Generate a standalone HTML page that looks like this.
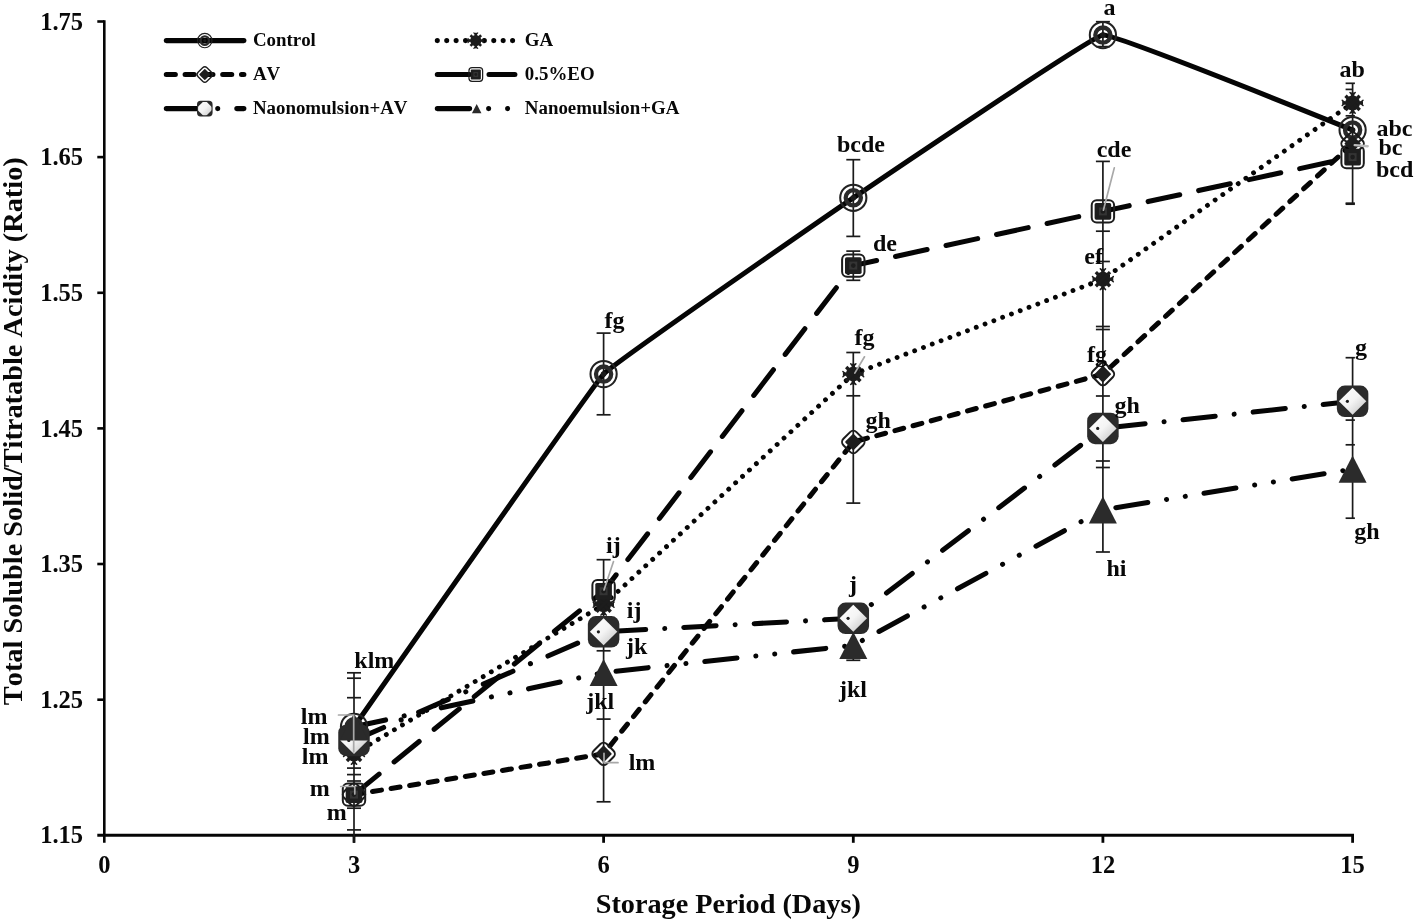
<!DOCTYPE html>
<html><head><meta charset="utf-8"><title>chart</title>
<style>
html,body{margin:0;padding:0;background:#fff;}
body{width:1416px;height:923px;overflow:hidden;}
svg{display:block;}
svg{filter:grayscale(1);}
text{font-family:"Liberation Serif",serif;font-weight:bold;fill:#080808;font-kerning:none;}
</style></head><body>
<svg width="1416" height="923" viewBox="0 0 1416 923">
<defs>
<linearGradient id="gd" x1="0" y1="0" x2="1" y2="1"><stop offset="0" stop-color="#ffffff"/><stop offset="0.5" stop-color="#f4f4f4"/><stop offset="1" stop-color="#bdbdbd"/></linearGradient>
<clipPath id="lclip"><rect x="-6.7" y="-6.7" width="13.4" height="13.4" rx="2.6"/></clipPath>
</defs>
<rect width="1416" height="923" fill="#fff"/>

<g stroke="#050505" fill="none">
<line x1="104.3" y1="20.3" x2="104.3" y2="842.8" stroke-width="2.6"/>
<line x1="97.3" y1="835.3" x2="1354.0" y2="835.3" stroke-width="3"/>
<line x1="97.3" y1="21.5" x2="104.3" y2="21.5" stroke-width="2.6"/>
<line x1="97.3" y1="157.1" x2="104.3" y2="157.1" stroke-width="2.6"/>
<line x1="97.3" y1="292.8" x2="104.3" y2="292.8" stroke-width="2.6"/>
<line x1="97.3" y1="428.4" x2="104.3" y2="428.4" stroke-width="2.6"/>
<line x1="97.3" y1="564.0" x2="104.3" y2="564.0" stroke-width="2.6"/>
<line x1="97.3" y1="699.7" x2="104.3" y2="699.7" stroke-width="2.6"/>
<line x1="354.0" y1="835.3" x2="354.0" y2="842.8" stroke-width="2.8"/>
<line x1="603.6" y1="835.3" x2="603.6" y2="842.8" stroke-width="2.8"/>
<line x1="853.3" y1="835.3" x2="853.3" y2="842.8" stroke-width="2.8"/>
<line x1="1102.9" y1="835.3" x2="1102.9" y2="842.8" stroke-width="2.8"/>
<line x1="1352.6" y1="835.3" x2="1352.6" y2="842.8" stroke-width="2.8"/>
</g>
<text x="83.0" y="29.6" font-size="24.5" text-anchor="end">1.75</text>
<text x="83.0" y="165.2" font-size="24.5" text-anchor="end">1.65</text>
<text x="83.0" y="300.9" font-size="24.5" text-anchor="end">1.55</text>
<text x="83.0" y="436.5" font-size="24.5" text-anchor="end">1.45</text>
<text x="83.0" y="572.1" font-size="24.5" text-anchor="end">1.35</text>
<text x="83.0" y="707.8" font-size="24.5" text-anchor="end">1.25</text>
<text x="83.0" y="843.4" font-size="24.5" text-anchor="end">1.15</text>
<text x="104.3" y="873" font-size="24.5" text-anchor="middle">0</text>
<text x="354.0" y="873" font-size="24.5" text-anchor="middle">3</text>
<text x="603.6" y="873" font-size="24.5" text-anchor="middle">6</text>
<text x="853.3" y="873" font-size="24.5" text-anchor="middle">9</text>
<text x="1102.9" y="873" font-size="24.5" text-anchor="middle">12</text>
<text x="1352.6" y="873" font-size="24.5" text-anchor="middle">15</text>
<text x="728.3" y="913.2" font-size="28.25" text-anchor="middle">Storage Period (Days)</text>
<text transform="translate(22.3,431.2) rotate(-90)" font-size="28.35" text-anchor="middle">Total Soluble Solid/Titratable Acidity (Ratio)</text>
<g stroke="#1a1a1a" stroke-width="1.7" fill="none" id="eb">
<line x1="354.0" y1="672.8" x2="354.0" y2="843"/>
<line x1="347.0" y1="672.8" x2="361.0" y2="672.8"/>
<line x1="347.0" y1="678.2" x2="361.0" y2="678.2"/>
<line x1="347.0" y1="697.7" x2="361.0" y2="697.7"/>
<line x1="347.0" y1="768.1" x2="361.0" y2="768.1"/>
<line x1="347.0" y1="774.6" x2="361.0" y2="774.6"/>
<line x1="347.0" y1="781" x2="361.0" y2="781"/>
<line x1="347.0" y1="808.2" x2="361.0" y2="808.2"/>
<line x1="347.0" y1="829.9" x2="361.0" y2="829.9"/>
<line x1="603.6" y1="333.1" x2="603.6" y2="414.8"/>
<line x1="603.6" y1="559.7" x2="603.6" y2="801.8"/>
<line x1="596.6" y1="333.1" x2="610.6" y2="333.1"/>
<line x1="596.6" y1="414.8" x2="610.6" y2="414.8"/>
<line x1="596.6" y1="559.7" x2="610.6" y2="559.7"/>
<line x1="596.6" y1="650.8" x2="610.6" y2="650.8"/>
<line x1="596.6" y1="719.1" x2="610.6" y2="719.1"/>
<line x1="596.6" y1="801.8" x2="610.6" y2="801.8"/>
<line x1="853.3" y1="159.7" x2="853.3" y2="236.4"/>
<line x1="853.3" y1="251.1" x2="853.3" y2="280.3"/>
<line x1="853.3" y1="352.5" x2="853.3" y2="503.1"/>
<line x1="853.3" y1="640" x2="853.3" y2="660.3"/>
<line x1="846.3" y1="159.7" x2="860.3" y2="159.7"/>
<line x1="846.3" y1="236.4" x2="860.3" y2="236.4"/>
<line x1="846.3" y1="251.1" x2="860.3" y2="251.1"/>
<line x1="846.3" y1="280.3" x2="860.3" y2="280.3"/>
<line x1="846.3" y1="352.5" x2="860.3" y2="352.5"/>
<line x1="846.3" y1="395.8" x2="860.3" y2="395.8"/>
<line x1="846.3" y1="503.1" x2="860.3" y2="503.1"/>
<line x1="846.3" y1="660.3" x2="860.3" y2="660.3"/>
<line x1="1102.9" y1="21.7" x2="1102.9" y2="46.6"/>
<line x1="1102.9" y1="161.4" x2="1102.9" y2="552"/>
<line x1="1095.9" y1="21.7" x2="1109.9" y2="21.7"/>
<line x1="1095.9" y1="46.6" x2="1109.9" y2="46.6"/>
<line x1="1095.9" y1="161.4" x2="1109.9" y2="161.4"/>
<line x1="1095.9" y1="231.2" x2="1109.9" y2="231.2"/>
<line x1="1095.9" y1="261.5" x2="1109.9" y2="261.5"/>
<line x1="1095.9" y1="326.5" x2="1109.9" y2="326.5"/>
<line x1="1095.9" y1="329.5" x2="1109.9" y2="329.5"/>
<line x1="1095.9" y1="396" x2="1109.9" y2="396"/>
<line x1="1095.9" y1="461" x2="1109.9" y2="461"/>
<line x1="1095.9" y1="467.5" x2="1109.9" y2="467.5"/>
<line x1="1095.9" y1="552" x2="1109.9" y2="552"/>
<line x1="1352.6" y1="83.3" x2="1352.6" y2="203.6"/>
<line x1="1352.6" y1="357.7" x2="1352.6" y2="518.2"/>
<line x1="1345.6" y1="83.3" x2="1354.9" y2="83.3"/>
<line x1="1345.6" y1="115.8" x2="1354.9" y2="115.8"/>
<line x1="1345.6" y1="203.2" x2="1354.9" y2="203.2"/>
<line x1="1345.6" y1="204.2" x2="1354.9" y2="204.2"/>
<line x1="1345.6" y1="357.7" x2="1354.9" y2="357.7"/>
<line x1="1345.6" y1="420.1" x2="1354.9" y2="420.1"/>
<line x1="1345.6" y1="444.8" x2="1354.9" y2="444.8"/>
<line x1="1345.6" y1="518.2" x2="1354.9" y2="518.2"/>
<line x1="1345.6" y1="89.4" x2="1352.6" y2="89.4"/>
</g>
<g fill="none" stroke="#050505" stroke-width="5.05" stroke-linecap="round" stroke-linejoin="round" id="lines">
<path d="M354.0,726.8 C359.8,718.6 592.0,386.5 603.6,374.1 C615.3,361.8 841.6,205.7 853.3,197.8 C864.9,189.9 1091.3,36.6 1102.9,35.1 C1114.6,33.5 1346.8,127.8 1352.6,130.0"/>
<polyline points="354.0,753.9 603.6,604.7 853.3,374.1 1102.9,279.2 1352.6,102.9" stroke-dasharray="0.01 9.40" stroke-width="4.85"/>
<polyline points="354.0,794.6 603.6,753.9 853.3,442.0 1102.9,374.1 1352.6,143.6" stroke-dasharray="9.05 9.75"/>
<polyline points="354.0,794.6 603.6,591.2 853.3,265.6 1102.9,211.4 1352.6,157.1" stroke-dasharray="32.35 19.35"/>
<polyline points="354.0,740.4 603.6,631.8 853.3,618.3 1102.9,428.4 1352.6,401.3" stroke-dasharray="32.35 19.07 0.01 19.07"/>
<polyline points="354.0,726.8 603.6,672.5 853.3,645.4 1102.9,509.8 1352.6,469.1" stroke-dasharray="32.35 18.98 0.01 18.98 0.01 18.98"/>
</g>
<g id="markers">
<g transform="translate(354.0,726.8)" fill="none"><circle r="13.1" stroke="#222" stroke-width="2.05"/><circle r="7.6" stroke="#2a2a2a" stroke-width="4.3"/><circle r="2.8" fill="#1a1a1a"/></g>
<g transform="translate(603.6,374.1)" fill="none"><circle r="13.1" stroke="#222" stroke-width="2.05"/><circle r="7.6" stroke="#2a2a2a" stroke-width="4.3"/><circle r="2.8" fill="#1a1a1a"/></g>
<g transform="translate(853.3,197.8)" fill="none"><circle r="13.1" stroke="#222" stroke-width="2.05"/><circle r="7.6" stroke="#2a2a2a" stroke-width="4.3"/><circle r="2.8" fill="#1a1a1a"/></g>
<g transform="translate(1102.9,35.1)" fill="none"><circle r="13.1" stroke="#222" stroke-width="2.05"/><circle r="7.6" stroke="#2a2a2a" stroke-width="4.3"/><circle r="2.8" fill="#1a1a1a"/></g>
<g transform="translate(1352.6,130.0)" fill="none"><circle r="13.1" stroke="#222" stroke-width="2.05"/><circle r="7.6" stroke="#2a2a2a" stroke-width="4.3"/><circle r="2.8" fill="#1a1a1a"/></g>
<g transform="translate(354.0,753.9)" stroke="#1c1c1c" stroke-width="3.4" stroke-linecap="butt"><circle r="7.4" fill="#1c1c1c" stroke="none"/><line x1="-10.4" y1="0" x2="10.4" y2="0"/><line x1="0" y1="-10.4" x2="0" y2="10.4"/><line x1="-7.1" y1="-7.1" x2="7.1" y2="7.1"/><line x1="-7.1" y1="7.1" x2="7.1" y2="-7.1"/><g stroke-width="1.5" stroke-linecap="round"><path d="M8.6,-1 L10.4,-2.6 M8.6,1 L10.4,2.6 M-8.6,-1 L-10.4,-2.6 M-8.6,1 L-10.4,2.6 M-1,8.6 L-2.6,10.4 M1,8.6 L2.6,10.4 M-1,-8.6 L-2.6,-10.4 M1,-8.6 L2.6,-10.4"/></g></g>
<g transform="translate(603.6,604.7)" stroke="#1c1c1c" stroke-width="3.4" stroke-linecap="butt"><circle r="7.4" fill="#1c1c1c" stroke="none"/><line x1="-10.4" y1="0" x2="10.4" y2="0"/><line x1="0" y1="-10.4" x2="0" y2="10.4"/><line x1="-7.1" y1="-7.1" x2="7.1" y2="7.1"/><line x1="-7.1" y1="7.1" x2="7.1" y2="-7.1"/><g stroke-width="1.5" stroke-linecap="round"><path d="M8.6,-1 L10.4,-2.6 M8.6,1 L10.4,2.6 M-8.6,-1 L-10.4,-2.6 M-8.6,1 L-10.4,2.6 M-1,8.6 L-2.6,10.4 M1,8.6 L2.6,10.4 M-1,-8.6 L-2.6,-10.4 M1,-8.6 L2.6,-10.4"/></g></g>
<g transform="translate(853.3,374.1)" stroke="#1c1c1c" stroke-width="3.4" stroke-linecap="butt"><circle r="7.4" fill="#1c1c1c" stroke="none"/><line x1="-10.4" y1="0" x2="10.4" y2="0"/><line x1="0" y1="-10.4" x2="0" y2="10.4"/><line x1="-7.1" y1="-7.1" x2="7.1" y2="7.1"/><line x1="-7.1" y1="7.1" x2="7.1" y2="-7.1"/><g stroke-width="1.5" stroke-linecap="round"><path d="M8.6,-1 L10.4,-2.6 M8.6,1 L10.4,2.6 M-8.6,-1 L-10.4,-2.6 M-8.6,1 L-10.4,2.6 M-1,8.6 L-2.6,10.4 M1,8.6 L2.6,10.4 M-1,-8.6 L-2.6,-10.4 M1,-8.6 L2.6,-10.4"/></g></g>
<g transform="translate(1102.9,279.2)" stroke="#1c1c1c" stroke-width="3.4" stroke-linecap="butt"><circle r="7.4" fill="#1c1c1c" stroke="none"/><line x1="-10.4" y1="0" x2="10.4" y2="0"/><line x1="0" y1="-10.4" x2="0" y2="10.4"/><line x1="-7.1" y1="-7.1" x2="7.1" y2="7.1"/><line x1="-7.1" y1="7.1" x2="7.1" y2="-7.1"/><g stroke-width="1.5" stroke-linecap="round"><path d="M8.6,-1 L10.4,-2.6 M8.6,1 L10.4,2.6 M-8.6,-1 L-10.4,-2.6 M-8.6,1 L-10.4,2.6 M-1,8.6 L-2.6,10.4 M1,8.6 L2.6,10.4 M-1,-8.6 L-2.6,-10.4 M1,-8.6 L2.6,-10.4"/></g></g>
<g transform="translate(1352.6,102.9)" stroke="#1c1c1c" stroke-width="3.4" stroke-linecap="butt"><circle r="7.4" fill="#1c1c1c" stroke="none"/><line x1="-10.4" y1="0" x2="10.4" y2="0"/><line x1="0" y1="-10.4" x2="0" y2="10.4"/><line x1="-7.1" y1="-7.1" x2="7.1" y2="7.1"/><line x1="-7.1" y1="7.1" x2="7.1" y2="-7.1"/><g stroke-width="1.5" stroke-linecap="round"><path d="M8.6,-1 L10.4,-2.6 M8.6,1 L10.4,2.6 M-8.6,-1 L-10.4,-2.6 M-8.6,1 L-10.4,2.6 M-1,8.6 L-2.6,10.4 M1,8.6 L2.6,10.4 M-1,-8.6 L-2.6,-10.4 M1,-8.6 L2.6,-10.4"/></g></g>
<g transform="translate(354.0,794.6)"><rect x="-9.24" y="-9.24" width="18.48" height="18.48" rx="4.5" transform="rotate(45)" fill="none" stroke="#1c1c1c" stroke-width="2"/><rect x="-6" y="-6" width="12" height="12" rx="1" transform="rotate(45)" fill="#1e1e1e"/></g>
<g transform="translate(603.6,753.9)"><rect x="-9.24" y="-9.24" width="18.48" height="18.48" rx="4.5" transform="rotate(45)" fill="none" stroke="#1c1c1c" stroke-width="2"/><rect x="-6" y="-6" width="12" height="12" rx="1" transform="rotate(45)" fill="#1e1e1e"/></g>
<g transform="translate(853.3,442.0)"><rect x="-9.24" y="-9.24" width="18.48" height="18.48" rx="4.5" transform="rotate(45)" fill="none" stroke="#1c1c1c" stroke-width="2"/><rect x="-6" y="-6" width="12" height="12" rx="1" transform="rotate(45)" fill="#1e1e1e"/></g>
<g transform="translate(1102.9,374.1)"><rect x="-9.24" y="-9.24" width="18.48" height="18.48" rx="4.5" transform="rotate(45)" fill="none" stroke="#1c1c1c" stroke-width="2"/><rect x="-6" y="-6" width="12" height="12" rx="1" transform="rotate(45)" fill="#1e1e1e"/></g>
<g transform="translate(1352.6,143.6)"><rect x="-9.24" y="-9.24" width="18.48" height="18.48" rx="4.5" transform="rotate(45)" fill="none" stroke="#1c1c1c" stroke-width="2"/><rect x="-6" y="-6" width="12" height="12" rx="1" transform="rotate(45)" fill="#1e1e1e"/></g>
<g transform="translate(354.0,794.6)"><rect x="-11.2" y="-11.2" width="22.4" height="22.4" rx="5" fill="none" stroke="#1c1c1c" stroke-width="2"/><rect x="-8.3" y="-8.3" width="16.6" height="16.6" rx="1.6" fill="#1e1e1e"/><rect x="-4" y="-4" width="8" height="8" fill="#343434"/><circle r="2.3" fill="#1c1c1c"/></g>
<g transform="translate(603.6,591.2)"><rect x="-11.2" y="-11.2" width="22.4" height="22.4" rx="5" fill="none" stroke="#1c1c1c" stroke-width="2"/><rect x="-8.3" y="-8.3" width="16.6" height="16.6" rx="1.6" fill="#1e1e1e"/><rect x="-4" y="-4" width="8" height="8" fill="#343434"/><circle r="2.3" fill="#1c1c1c"/></g>
<g transform="translate(853.3,265.6)"><rect x="-11.2" y="-11.2" width="22.4" height="22.4" rx="5" fill="none" stroke="#1c1c1c" stroke-width="2"/><rect x="-8.3" y="-8.3" width="16.6" height="16.6" rx="1.6" fill="#1e1e1e"/><rect x="-4" y="-4" width="8" height="8" fill="#343434"/><circle r="2.3" fill="#1c1c1c"/></g>
<g transform="translate(1102.9,211.4)"><rect x="-11.2" y="-11.2" width="22.4" height="22.4" rx="5" fill="none" stroke="#1c1c1c" stroke-width="2"/><rect x="-8.3" y="-8.3" width="16.6" height="16.6" rx="1.6" fill="#1e1e1e"/><rect x="-4" y="-4" width="8" height="8" fill="#343434"/><circle r="2.3" fill="#1c1c1c"/></g>
<g transform="translate(1352.6,157.1)"><rect x="-11.2" y="-11.2" width="22.4" height="22.4" rx="5" fill="none" stroke="#1c1c1c" stroke-width="2"/><rect x="-8.3" y="-8.3" width="16.6" height="16.6" rx="1.6" fill="#1e1e1e"/><rect x="-4" y="-4" width="8" height="8" fill="#343434"/><circle r="2.3" fill="#1c1c1c"/></g>
<g transform="translate(354.0,740.4)"><rect x="-15.75" y="-15.75" width="31.5" height="31.5" rx="8" fill="#2b2b2b"/><path d="M0,-13.5 L13.7,0 L0,13.5 L-13.7,0 Z" fill="url(#gd)"/><circle cx="-5.2" cy="0" r="1.6" fill="#1a1a1a"/></g>
<g transform="translate(603.6,631.8)"><rect x="-15.75" y="-15.75" width="31.5" height="31.5" rx="8" fill="#2b2b2b"/><path d="M0,-13.5 L13.7,0 L0,13.5 L-13.7,0 Z" fill="url(#gd)"/><circle cx="-5.2" cy="0" r="1.6" fill="#1a1a1a"/></g>
<g transform="translate(853.3,618.3)"><rect x="-15.75" y="-15.75" width="31.5" height="31.5" rx="8" fill="#2b2b2b"/><path d="M0,-13.5 L13.7,0 L0,13.5 L-13.7,0 Z" fill="url(#gd)"/><circle cx="-5.2" cy="0" r="1.6" fill="#1a1a1a"/></g>
<g transform="translate(1102.9,428.4)"><rect x="-15.75" y="-15.75" width="31.5" height="31.5" rx="8" fill="#2b2b2b"/><path d="M0,-13.5 L13.7,0 L0,13.5 L-13.7,0 Z" fill="url(#gd)"/><circle cx="-5.2" cy="0" r="1.6" fill="#1a1a1a"/></g>
<g transform="translate(1352.6,401.3)"><rect x="-15.75" y="-15.75" width="31.5" height="31.5" rx="8" fill="#2b2b2b"/><path d="M0,-13.5 L13.7,0 L0,13.5 L-13.7,0 Z" fill="url(#gd)"/><circle cx="-5.2" cy="0" r="1.6" fill="#1a1a1a"/></g>
<g transform="translate(354.0,726.8)"><path d="M0,-13.5 L14,13.6 L-14,13.6 Z" fill="#2b2b2b"/></g>
<g transform="translate(603.6,672.5)"><path d="M0,-13.5 L14,13.6 L-14,13.6 Z" fill="#2b2b2b"/></g>
<g transform="translate(853.3,645.4)"><path d="M0,-13.5 L14,13.6 L-14,13.6 Z" fill="#2b2b2b"/></g>
<g transform="translate(1102.9,509.8)"><path d="M0,-13.5 L14,13.6 L-14,13.6 Z" fill="#2b2b2b"/></g>
<g transform="translate(1352.6,469.1)"><path d="M0,-13.5 L14,13.6 L-14,13.6 Z" fill="#2b2b2b"/></g>
</g>
<g id="legend">
<line x1="166.3" y1="40.6" x2="243.9" y2="40.6" stroke="#050505" stroke-width="5.05" stroke-linecap="round"/>
<g transform="translate(204.8,40.6) scale(0.55)" fill="none"><circle r="13.1" stroke="#222" stroke-width="2.05"/><circle r="7.6" stroke="#2a2a2a" stroke-width="4.3"/><circle r="2.8" fill="#1a1a1a"/></g>
<text x="252.9" y="46.2" font-size="18.9">Control</text>
<line x1="166.3" y1="74.5" x2="243.9" y2="74.5" stroke="#050505" stroke-width="5.05" stroke-linecap="round" stroke-dasharray="9.05 9.75"/>
<g transform="translate(204.8,74.5) scale(0.68)"><rect x="-9.24" y="-9.24" width="18.48" height="18.48" rx="4.5" transform="rotate(45)" fill="none" stroke="#1c1c1c" stroke-width="2"/><rect x="-6" y="-6" width="12" height="12" rx="1" transform="rotate(45)" fill="#1e1e1e"/></g>
<text x="252.9" y="80.1" font-size="18.9">AV</text>
<line x1="166.3" y1="108.6" x2="243.9" y2="108.6" stroke="#050505" stroke-width="5.05" stroke-linecap="round" stroke-dasharray="32.35 19.07 0.01 19.07"/>
<g transform="translate(204.8,108.6)"><rect x="-7.8" y="-7.8" width="15.6" height="15.6" rx="3.6" fill="#2b2b2b"/><path d="M0,-8.6 L8.6,0 L0,8.6 L-8.6,0 Z" fill="url(#gd)" clip-path="url(#lclip)"/></g>
<text x="252.9" y="114.19999999999999" font-size="18.9">Naonomulsion+AV</text>
<line x1="437.3" y1="40.6" x2="514.9" y2="40.6" stroke="#050505" stroke-width="5.05" stroke-linecap="round" stroke-dasharray="0.01 9.40"/>
<g transform="translate(475.8,40.6) scale(0.75)" stroke="#1c1c1c" stroke-width="3.4" stroke-linecap="butt"><circle r="7.4" fill="#1c1c1c" stroke="none"/><line x1="-10.4" y1="0" x2="10.4" y2="0"/><line x1="0" y1="-10.4" x2="0" y2="10.4"/><line x1="-7.1" y1="-7.1" x2="7.1" y2="7.1"/><line x1="-7.1" y1="7.1" x2="7.1" y2="-7.1"/><g stroke-width="1.5" stroke-linecap="round"><path d="M8.6,-1 L10.4,-2.6 M8.6,1 L10.4,2.6 M-8.6,-1 L-10.4,-2.6 M-8.6,1 L-10.4,2.6 M-1,8.6 L-2.6,10.4 M1,8.6 L2.6,10.4 M-1,-8.6 L-2.6,-10.4 M1,-8.6 L2.6,-10.4"/></g></g>
<text x="524.8" y="46.2" font-size="18.9">GA</text>
<line x1="437.3" y1="74.5" x2="514.9" y2="74.5" stroke="#050505" stroke-width="5.05" stroke-linecap="round" stroke-dasharray="32.35 19.35"/>
<g transform="translate(475.8,74.5) scale(0.61)"><rect x="-11.2" y="-11.2" width="22.4" height="22.4" rx="5" fill="none" stroke="#1c1c1c" stroke-width="2"/><rect x="-8.3" y="-8.3" width="16.6" height="16.6" rx="1.6" fill="#1e1e1e"/><rect x="-4" y="-4" width="8" height="8" fill="#343434"/><circle r="2.3" fill="#1c1c1c"/></g>
<text x="524.8" y="80.1" font-size="18.9">0.5%EO</text>
<line x1="437.3" y1="108.6" x2="514.9" y2="108.6" stroke="#050505" stroke-width="5.05" stroke-linecap="round" stroke-dasharray="32.35 18.98 0.01 18.98 0.01 18.98"/>
<g transform="translate(476.7,108.6) scale(0.34)"><path d="M0,-13.5 L14,13.6 L-14,13.6 Z" fill="#2b2b2b"/></g>
<text x="524.8" y="114.19999999999999" font-size="18.9">Nanoemulsion+GA</text>
</g>
<g stroke="#a8a8a8" stroke-width="1.7" fill="none" stroke-linecap="round" id="leaders">
<path d="M338.5,715 H353.7 V751.8"/>
<path d="M340.7,786.5 H354.8 V794"/>
<path d="M613.5,561.6 L604,590"/>
<path d="M604,753.3 V762.7 H618"/>
<path d="M864.5,356.8 L854.8,373.1"/>
<path d="M1114.3,167.9 L1103.4,210.2"/>
<path d="M1354.7,145.1 L1367.7,146.2" stroke-width="2.4" stroke="#bdbdbd"/>
</g>
<g font-size="24" text-anchor="middle" id="dl">
<text x="1109.5" y="15">a</text>
<text x="1352.2" y="77.1">ab</text>
<text x="1394.5" y="135.6">abc</text>
<text x="1390.5" y="154.6">bc</text>
<text x="1394.6" y="177.4">bcd</text>
<text x="861" y="151.7">bcde</text>
<text x="1114" y="156.6">cde</text>
<text x="885" y="250.6">de</text>
<text x="1093.7" y="263.7">ef</text>
<text x="614.6" y="327.5">fg</text>
<text x="864.5" y="345">fg</text>
<text x="1097" y="362">fg</text>
<text x="878.1" y="427.6">gh</text>
<text x="1127.3" y="413">gh</text>
<text x="1361" y="354.5">g</text>
<text x="1367" y="538.5">gh</text>
<text x="1116.5" y="576.4">hi</text>
<text x="613.4" y="553">ij</text>
<text x="634.1" y="618">ij</text>
<text x="636.6" y="654.2">jk</text>
<text x="600.3" y="709">jkl</text>
<text x="853" y="591.7">j</text>
<text x="853" y="697">jkl</text>
<text x="374.3" y="668.3">klm</text>
<text x="314.2" y="724">lm</text>
<text x="316.4" y="744">lm</text>
<text x="315.2" y="763.6">lm</text>
<text x="319.8" y="795.5">m</text>
<text x="336.8" y="820.2">m</text>
<text x="642" y="770.1">lm</text>
</g>
</svg></body></html>
